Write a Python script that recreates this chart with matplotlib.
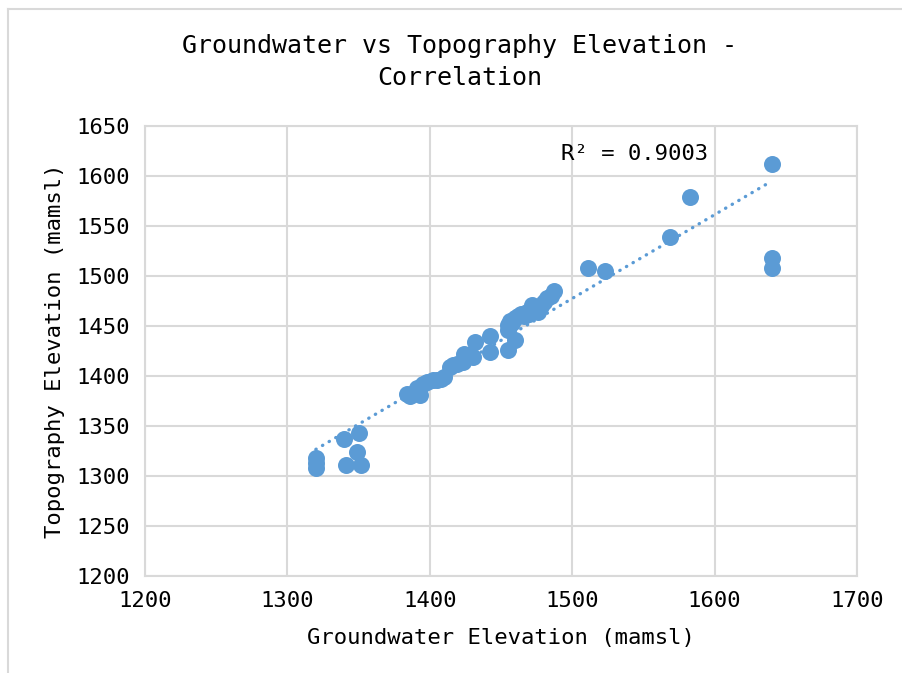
import numpy as np
import matplotlib.pyplot as plt
from matplotlib.lines import Line2D

plt.rcParams['font.family'] = 'DejaVu Sans Mono'

# groundwater elevation (mamsl) vs topography elevation (mamsl)
groundwater = [1320, 1320, 1320, 1340, 1341, 1349, 1350, 1352,
               1384, 1386, 1391, 1393, 1395, 1398, 1402, 1405, 1408, 1410,
               1414, 1416, 1419, 1423, 1424, 1426, 1430, 1432, 1442, 1442,
               1455, 1460,
               1455, 1455, 1456, 1458, 1460, 1462, 1464, 1466, 1468, 1470,
               1472, 1474, 1476, 1478, 1480, 1482, 1485, 1487,
               1511, 1523, 1569, 1583, 1640, 1640, 1640]
topography = [1318, 1313, 1308, 1337, 1311, 1324, 1343, 1311,
              1382, 1380, 1388, 1381, 1392, 1394, 1396, 1396, 1397, 1399,
              1409, 1411, 1412, 1414, 1422, 1421, 1419, 1434, 1440, 1424,
              1426, 1436,
              1446, 1451, 1455, 1453, 1458, 1460, 1462, 1460, 1464, 1462,
              1471, 1466, 1464, 1470, 1474, 1478, 1480, 1485,
              1508, 1505, 1539, 1579, 1612, 1518, 1508]

xticks = [1200, 1300, 1400, 1500, 1600, 1700]
yticks = [1200, 1250, 1300, 1350, 1400, 1450, 1500, 1550, 1600, 1650]

blue = '#5B9BD5'
grey = '#D9D9D9'

fig = plt.figure(figsize=(9.03, 6.73), dpi=100)
ax = fig.add_axes([145/903, 1-576/673, 712/903, 450/673])

x = np.array(groundwater)
y = np.array(topography)
ax.scatter(x, y, s=150, color=blue, zorder=3, linewidths=0)

# linear trendline
m, c = np.polyfit(x, y, 1)
xl = np.array([x.min(), x.max()])
ax.plot(xl, m*xl + c, color=blue, lw=2.4, linestyle=(0, (0.1, 2.2)),
        dash_capstyle='round', zorder=2)
ax.text(1492, 1622, 'R² = 0.9003', fontsize=16, ha='left', va='center')

ax.set_xlim(1200, 1700)
ax.set_ylim(1200, 1650)
ax.set_xticks(xticks)
ax.set_yticks(yticks)
ax.tick_params(length=0, labelsize=16, pad=11)
ax.grid(True, color=grey, lw=1.5)
ax.set_axisbelow(True)
for s in ax.spines.values():
    s.set_color(grey)
    s.set_linewidth(1.5)

ax.set_xlabel('Groundwater Elevation (mamsl)', fontsize=16, labelpad=12)
ax.set_ylabel('Topography Elevation (mamsl)', fontsize=16, labelpad=8)
fig.text(460/903, 1-62/673, 'Groundwater vs Topography Elevation -\nCorrelation',
         fontsize=18, ha='center', va='center', linespacing=1.45)

# chart frame
fig.add_artist(Line2D([8/903, 1], [1-9/673, 1-9/673], color=grey, lw=1.5))
fig.add_artist(Line2D([8/903, 8/903], [0, 1-9/673], color=grey, lw=1.5))

fig.savefig('out.png', dpi=100)
